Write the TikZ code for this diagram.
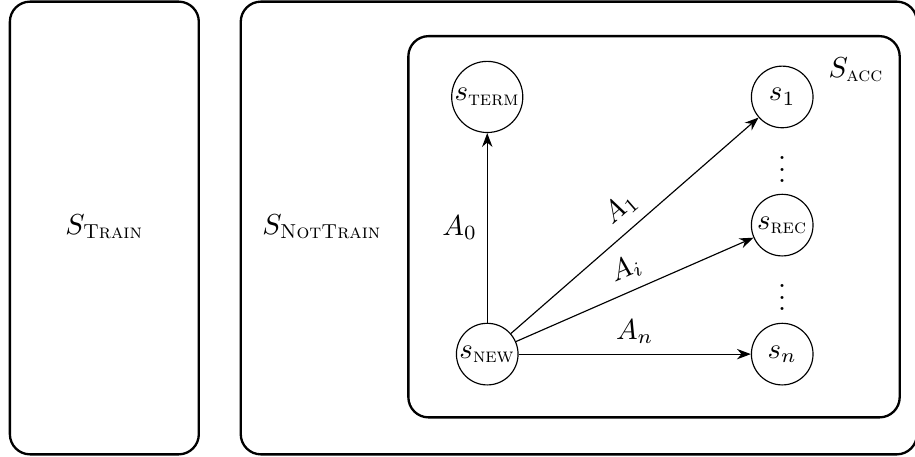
\documentclass[tikz,border=0pt]{standalone}
\usepackage{fontspec}
\usepackage{tikz}
\usetikzlibrary{arrows.meta}

% small caps name of a state or a set of states
\newcommand{\stname}[1]{\mbox{\fontsize{7pt}{8pt}\selectfont\textsc{#1}}}

\begin{document}
\begin{tikzpicture}[
    state/.style={draw,circle,thin,minimum size=0.75cm,inner sep=0.5pt},
    region/.style={draw,thick,rounded corners=7pt},
    edge/.style={-{Stealth}}]
    \useasboundingbox (0,0) rectangle (11.136,5.55);
    % state sets
    \draw[region] (0.12,0.02) rectangle (2.42,5.53);
    \draw[region] (2.93,0.02) rectangle (11.16,5.53);
    \draw[region] (4.97,0.47) rectangle (10.95,5.11);
    \node (train) at (1.27,2.79) {$S_{\stname{Train}}$};
    \node (nottrain) at (3.92,2.79) {$S_{\stname{NotTrain}}$};
    \node (acc) at (10.42,4.70) {$S_{\stname{acc}}$};
    % states
    \node[state] (term) at (5.93,4.37) {$s_{\stname{term}}$};
    \node[state] (new) at (5.93,1.24) {$s_{\stname{new}}$};
    \node[state] (s1) at (9.52,4.37) {$s_1$};
    \node[state] (rec) at (9.52,2.81) {$s_{\stname{rec}}$};
    \node[state] (sn) at (9.52,1.24) {$s_n$};
    \node[inner sep=0pt] (dots1) at (9.52,3.59) {$\vdots$};
    \node[inner sep=0pt] (dots2) at (9.52,2.03) {$\vdots$};
    % actions
    \draw[edge] (new) -- node[left] {$A_0$} (term);
    \draw[edge] (new) -- node[above,sloped] {$A_1$} (s1);
    \draw[edge] (new) -- node[above,sloped] {$A_i$} (rec);
    \draw[edge] (new) -- node[above] {$A_n$} (sn);
\end{tikzpicture}
\end{document}
